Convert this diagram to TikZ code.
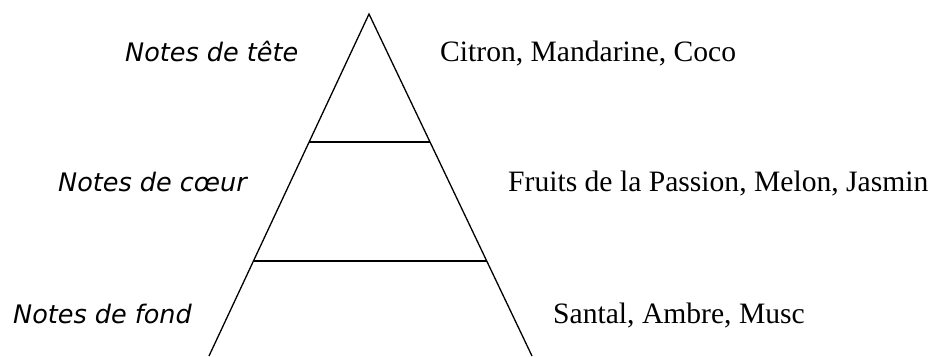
\documentclass[tikz,border=0pt]{standalone}
\usepackage{fontspec}
\setmainfont{Liberation Serif}
\newfontfamily\notesfont{DejaVu Sans}
\usetikzlibrary{calc}

\begin{document}
\begin{tikzpicture}[x=1pt, y=-1pt,
    every node/.style={inner sep=0pt, anchor=base west},
    niveau/.style={font=\notesfont\itshape\fontsize{25.5}{30}\selectfont},
    essence/.style={font=\fontsize{29.6}{34}\selectfont}]
    \useasboundingbox (0,0) rectangle (936,356);

    % Pyramide (ouverte en bas)
    \coordinate (apex) at (369,14);
    \coordinate (bl) at (209,356);
    \coordinate (br) at (532,356);
    \draw[line width=1.3pt, black] (bl) -- (apex) -- (br);

    % Separations
    \draw[line width=1.3pt, black] ($(apex)!0.3743!(bl)$) -- ($(apex)!0.3743!(br)$);
    \draw[line width=1.3pt, black] ($(apex)!0.7222!(bl)$) -- ($(apex)!0.7222!(br)$);

    % Niveaux (gauche)
    \node[niveau] (tete) at (125,61) {Notes de tête};
    \node[niveau] (coeur) at (58,191) {Notes de cœur};
    \node[niveau] (fond) at (13,323) {Notes de fond};

    % Essences (droite)
    \node[essence] (agrumes) at (440,61) {Citron, Mandarine, Coco};
    \node[essence] (fruits) at (508,191) {Fruits de la Passion, Melon, Jasmin};
    \node[essence] (bois) at (553,323) {Santal, Ambre, Musc};
\end{tikzpicture}
\end{document}
